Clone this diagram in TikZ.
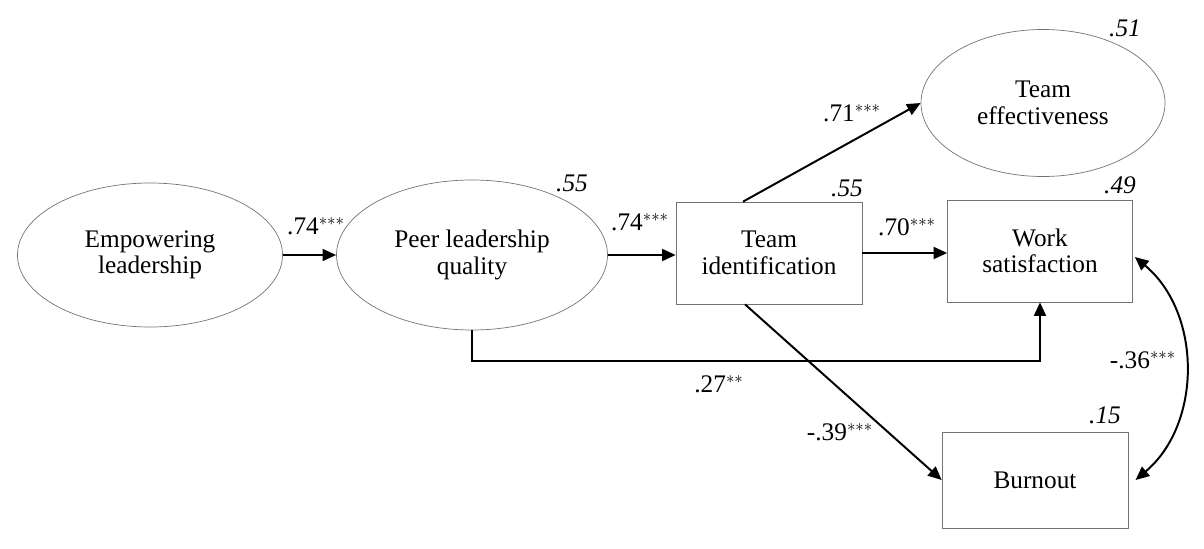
\documentclass[tikz,border=0pt]{standalone}
\usepackage{fontspec}
\setmainfont{Liberation Serif}
\usetikzlibrary{shapes.geometric,arrows.meta}

\begin{document}
\begin{tikzpicture}
            \tikzset{Latent/.style={%
                shape=ellipse,%
                draw=black!55,%
                line width=0.5pt,%
                inner sep=0pt,%
                align=center,%
                font=\fontsize{18}{18.8}\selectfont,%
            },
            Observed/.style={%
                shape=rectangle,%
                draw=black!55,%
                line width=0.5pt,%
                inner sep=0pt,%
                minimum width=4.65cm,%
                align=center,%
                font=\fontsize{18}{18.8}\selectfont,%
            },
            Path/.style={%
                draw=black,%
                line width=1.4pt,%
                -{Triangle[length=3.4mm,width=3mm]},%
            },
            Coef/.style={font=\fontsize{18}{20}\selectfont, inner sep=0pt},%
            Rsq/.style={font=\fontsize{18}{20}\selectfont\itshape, inner sep=0pt},%
            }
            \useasboundingbox (0,0) rectangle (30.1,13.7);

            \node[Latent, minimum width=6.625cm, minimum height=3.6cm] (emp) at (3.75,7.325) {Empowering\\leadership};
            \node[Latent, minimum width=6.775cm, minimum height=3.75cm] (peer) at (11.8,7.325) {Peer leadership\\quality};
            \node[Latent, minimum width=6.1cm, minimum height=3.675cm] (teff) at (26.075,11.125) {Team\\effectiveness};
            \node[Observed, minimum height=2.55cm] (tid) at (19.225,7.375) {Team\\identification};
            \node[Observed, minimum width=4.625cm, minimum height=2.55cm] (work) at (26.0,7.425) {Work\\satisfaction};
            \node[Observed, minimum height=2.4cm] (burn) at (25.875,1.7) {Burnout};
            \coordinate (jog) at (11.8,4.675);

            \path (emp.east) edge[Path] (peer.west);
            \path (peer.east) edge[Path] (peer.east -| tid.west);
            \path (tid.east) edge[Path] (tid.east -| work.west);
            \path ([xshift=-0.65cm]tid.north) edge[Path] (teff.west);
            \path ([xshift=-0.6cm]tid.south) edge[Path] (burn.west);
            \draw[Path] (peer.south) -- (jog) -| (work.south);
            \draw[Path, {Triangle[length=3.4mm,width=3mm]}-{Triangle[length=3.4mm,width=3mm]}]
                ([shift={(0.05,-0.15)}]work.east) to[bend left=50] ([xshift=0.18cm]burn.east);

            % path coefficients
            \node[Coef] (c1) at (7.9,8.05) {.74$^{***}$};
            \node[Coef] (c2) at (16.0,8.15) {.74$^{***}$};
            \node[Coef] (c3) at (21.3,10.875) {.71$^{***}$};
            \node[Coef] (c4) at (22.675,8.025) {.70$^{***}$};
            \node[Coef] (c5) at (17.975,4.1) {.27$^{**}$};
            \node[Coef] (c6) at (21.0,2.9) {-.39$^{***}$};
            \node[Coef] (c7) at (28.575,4.7) {-.36$^{***}$};

            % explained variance
            \node[Rsq] (r1) at (14.3,9.125) {.55};
            \node[Rsq] (r2) at (21.175,9.0) {.55};
            \node[Rsq] (r3) at (28.125,13.0) {.51};
            \node[Rsq] (r4) at (28.0,9.075) {.49};
            \node[Rsq] (r5) at (27.625,3.325) {.15};
        \end{tikzpicture}
\end{document}
